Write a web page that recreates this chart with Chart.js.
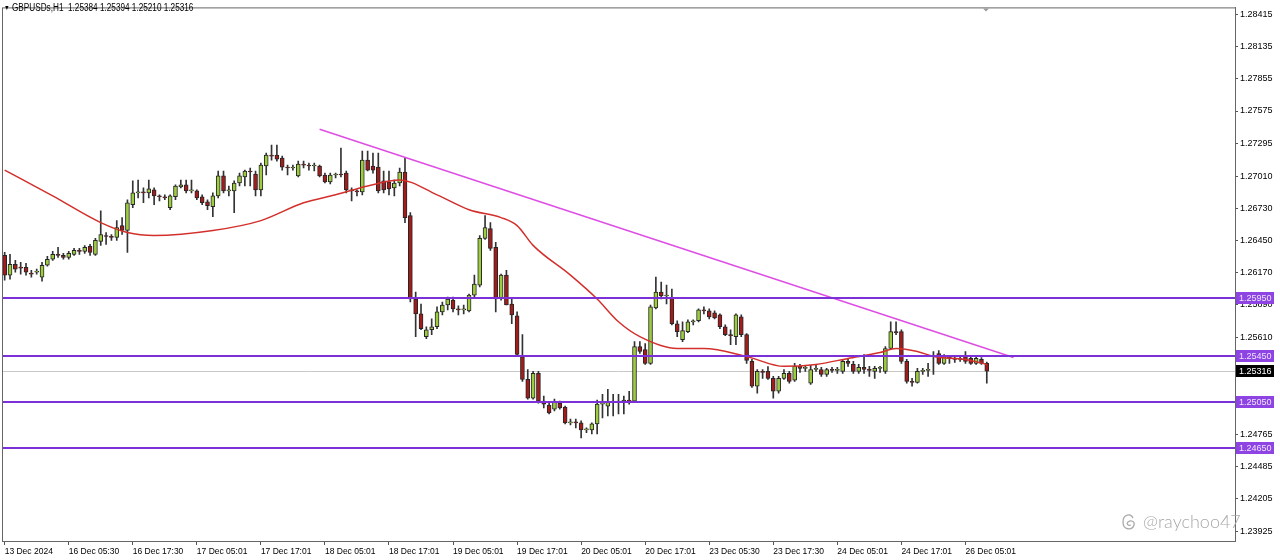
<!DOCTYPE html>
<html>
<head>
<meta charset="utf-8">
<title>GBPUSDs,H1</title>
<script src="https://cdn.jsdelivr.net/npm/chart.js@4.4.1/dist/chart.umd.min.js"></script>
<style>
  body { margin: 0; background: #fff; }
  #wrap { position: relative; width: 1280px; height: 560px; overflow: hidden; }
  #head { position: absolute; left: 4px; top: 2px; font: 10px "Liberation Sans", sans-serif; color: #000; white-space: pre; transform: scaleX(0.82); transform-origin: 0 0; }
  #head .tri { font-size: 7px; position: relative; top: -1px; }
  #mark { position: absolute; left: 1121px; top: 508px; color: #a9a9a9; font: 300 18px Lato, "Open Sans", sans-serif; line-height: 26px; white-space: nowrap; }
  #mark svg { vertical-align: -4px; margin-right: 6px; }
</style>
</head>
<body>
<div id="wrap">
  <canvas id="chart" width="1280" height="560"></canvas>
  <div id="head"></div>
  <div id="mark"><svg width="16" height="20" viewBox="0 0 16 20"><path d="M12 6 C10 1, 2 2, 2 10 C2 18, 11 19, 13 13 C14 9, 10 8, 7 10 C5 12, 7 14, 10 13" stroke="#a9a9a9" fill="none" stroke-width="1.3"/></svg>@raychoo47</div>
</div>
<script>
// GBPUSD hourly candles
const symbol = "GBPUSDs,H1";
const slots = 231; // bar slots visible on the chart (185 used)

const timeLabels = ["13 Dec 2024", "16 Dec 05:30", "16 Dec 17:30", "17 Dec 05:01", "17 Dec 17:01",
  "18 Dec 05:01", "18 Dec 17:01", "19 Dec 05:01", "19 Dec 17:01", "20 Dec 05:01", "20 Dec 17:01",
  "23 Dec 05:30", "23 Dec 17:30", "24 Dec 05:01", "24 Dec 17:01", "26 Dec 05:01"];

const priceTicks = [1.28415, 1.28135, 1.27855, 1.27575, 1.27295, 1.27010, 1.26730, 1.26450, 1.26170,
  1.25890, 1.25610, 1.25330, 1.25050, 1.24765, 1.24485, 1.24205, 1.23925];

const opens = [
  1.26321, 1.26149, 1.26244, 1.26218, 1.26218, 1.26166, 1.26175, 1.26132, 1.26235, 1.26287,
  1.26330, 1.26321, 1.26304, 1.26330, 1.26364, 1.26356, 1.26399, 1.26330, 1.26442, 1.26494,
  1.26485, 1.26477, 1.26580, 1.26537, 1.26761, 1.26864, 1.26873, 1.26864, 1.26890, 1.26838,
  1.26830, 1.26735, 1.26830, 1.26916, 1.26933, 1.26881, 1.26881, 1.26830, 1.26787, 1.26743,
  1.26838, 1.27011, 1.26881, 1.26881, 1.26950, 1.27002, 1.27054, 1.27028, 1.26890, 1.27097,
  1.27192, 1.27192, 1.27166, 1.27088, 1.27080, 1.27011, 1.27114, 1.27105, 1.27097, 1.27097,
  1.27019, 1.26959, 1.27019, 1.27028, 1.27036, 1.26890, 1.26881, 1.26873, 1.27149, 1.27097,
  1.27088, 1.26968, 1.26959, 1.26907, 1.26950, 1.27045, 1.26666, 1.25942, 1.25813, 1.25615,
  1.25675, 1.25701, 1.25830, 1.25890, 1.25933, 1.25856, 1.25847, 1.25839, 1.25976, 1.26063,
  1.26468, 1.26554, 1.26390, 1.25950, 1.26149, 1.25899, 1.25796, 1.25443, 1.25244, 1.25081,
  1.25296, 1.25055, 1.25020, 1.24986, 1.25038, 1.25003, 1.24866, 1.24874, 1.24866, 1.24805,
  1.24805, 1.24857, 1.25029, 1.25012, 1.25046, 1.25055, 1.25046, 1.25063, 1.25055, 1.25529,
  1.25503, 1.25383, 1.25864, 1.26003, 1.25968, 1.25950, 1.25727, 1.25589, 1.25658, 1.25744,
  1.25753, 1.25847, 1.25839, 1.25821, 1.25804, 1.25701, 1.25632, 1.25615, 1.25787, 1.25632,
  1.25400, 1.25184, 1.25313, 1.25313, 1.25253, 1.25141, 1.25253, 1.25296, 1.25236, 1.25357,
  1.25340, 1.25210, 1.25330, 1.25330, 1.25287, 1.25330, 1.25322, 1.25313, 1.25400, 1.25374,
  1.25313, 1.25348, 1.25330, 1.25313, 1.25340, 1.25313, 1.25512, 1.25658, 1.25658, 1.25400,
  1.25227, 1.25218, 1.25313, 1.25322, 1.25443, 1.25469, 1.25383, 1.25443, 1.25426, 1.25417,
  1.25443, 1.25426, 1.25383, 1.25417, 1.25384];

const highs = [
  1.26347, 1.26330, 1.26278, 1.26261, 1.26252, 1.26192, 1.26201, 1.26261, 1.26313, 1.26356,
  1.26390, 1.26339, 1.26356, 1.26382, 1.26382, 1.26407, 1.26416, 1.26468, 1.26709, 1.26520,
  1.26502, 1.26623, 1.26649, 1.26804, 1.26968, 1.26976, 1.26907, 1.26976, 1.26907, 1.26847,
  1.26847, 1.26847, 1.26933, 1.26976, 1.26976, 1.26976, 1.26890, 1.26847, 1.26804, 1.26864,
  1.27054, 1.27054, 1.26924, 1.26968, 1.27036, 1.27062, 1.27080, 1.27054, 1.27123, 1.27209,
  1.27278, 1.27278, 1.27183, 1.27105, 1.27105, 1.27140, 1.27140, 1.27123, 1.27123, 1.27105,
  1.27036, 1.27036, 1.27036, 1.27252, 1.27054, 1.26907, 1.26890, 1.27226, 1.27226, 1.27209,
  1.27209, 1.27054, 1.27054, 1.26976, 1.27080, 1.27166, 1.26692, 1.26003, 1.25899, 1.25701,
  1.25770, 1.25873, 1.25916, 1.25959, 1.25959, 1.25882, 1.25890, 1.25985, 1.26149, 1.26494,
  1.26666, 1.26606, 1.26435, 1.26158, 1.26192, 1.25942, 1.25830, 1.25632, 1.25330, 1.25313,
  1.25313, 1.25098, 1.25038, 1.25072, 1.25055, 1.25012, 1.24900, 1.24900, 1.24883, 1.24823,
  1.24866, 1.25063, 1.25115, 1.25158, 1.25115, 1.25115, 1.25098, 1.25141, 1.25572, 1.25572,
  1.25555, 1.25890, 1.26132, 1.26089, 1.26063, 1.26028, 1.25753, 1.25744, 1.25761, 1.25761,
  1.25856, 1.25873, 1.25856, 1.25839, 1.25813, 1.25718, 1.25675, 1.25813, 1.25804, 1.25641,
  1.25417, 1.25330, 1.25330, 1.25356, 1.25270, 1.25270, 1.25330, 1.25313, 1.25383, 1.25374,
  1.25366, 1.25366, 1.25366, 1.25348, 1.25340, 1.25348, 1.25348, 1.25409, 1.25417, 1.25400,
  1.25374, 1.25460, 1.25357, 1.25357, 1.25357, 1.25529, 1.25744, 1.25744, 1.25675, 1.25417,
  1.25253, 1.25340, 1.25340, 1.25383, 1.25486, 1.25495, 1.25460, 1.25452, 1.25452, 1.25443,
  1.25486, 1.25443, 1.25443, 1.25434, 1.25394];

const lows = [
  1.26106, 1.26115, 1.26175, 1.26158, 1.26149, 1.26132, 1.26158, 1.26097, 1.26227, 1.26278,
  1.26304, 1.26287, 1.26287, 1.26321, 1.26330, 1.26339, 1.26321, 1.26321, 1.26407, 1.26416,
  1.26451, 1.26451, 1.26502, 1.26347, 1.26735, 1.26821, 1.26778, 1.26821, 1.26761, 1.26795,
  1.26804, 1.26718, 1.26804, 1.26907, 1.26864, 1.26864, 1.26804, 1.26761, 1.26718, 1.26658,
  1.26821, 1.26864, 1.26838, 1.26692, 1.26924, 1.26924, 1.26924, 1.26838, 1.26838, 1.27019,
  1.27149, 1.27140, 1.27062, 1.27019, 1.27062, 1.27002, 1.27080, 1.27062, 1.27054, 1.27002,
  1.26950, 1.26942, 1.26993, 1.27002, 1.26864, 1.26795, 1.26838, 1.26847, 1.27054, 1.27036,
  1.26864, 1.26864, 1.26847, 1.26838, 1.26924, 1.26606, 1.25916, 1.25615, 1.25675, 1.25598,
  1.25632, 1.25684, 1.25804, 1.25847, 1.25830, 1.25804, 1.25813, 1.25830, 1.25959, 1.26046,
  1.26459, 1.26364, 1.25830, 1.25933, 1.25890, 1.25727, 1.25443, 1.25227, 1.25072, 1.25072,
  1.25038, 1.24995, 1.24943, 1.24969, 1.24986, 1.24857, 1.24849, 1.24823, 1.24736, 1.24780,
  1.24771, 1.24771, 1.24909, 1.24926, 1.24926, 1.24943, 1.24943, 1.25029, 1.25046, 1.25469,
  1.25374, 1.25374, 1.25856, 1.25942, 1.25899, 1.25718, 1.25615, 1.25572, 1.25649, 1.25718,
  1.25744, 1.25813, 1.25770, 1.25770, 1.25684, 1.25623, 1.25546, 1.25546, 1.25615, 1.25383,
  1.25175, 1.25124, 1.25253, 1.25244, 1.25081, 1.25124, 1.25244, 1.25210, 1.25227, 1.25305,
  1.25313, 1.25201, 1.25313, 1.25270, 1.25270, 1.25305, 1.25296, 1.25296, 1.25357, 1.25296,
  1.25296, 1.25296, 1.25270, 1.25253, 1.25305, 1.25296, 1.25503, 1.25632, 1.25383, 1.25210,
  1.25184, 1.25210, 1.25287, 1.25270, 1.25287, 1.25374, 1.25374, 1.25383, 1.25391, 1.25400,
  1.25383, 1.25374, 1.25374, 1.25374, 1.25210];

const closes = [
  1.26149, 1.26244, 1.26201, 1.26210, 1.26175, 1.26158, 1.26184, 1.26235, 1.26287, 1.26330,
  1.26321, 1.26304, 1.26339, 1.26364, 1.26356, 1.26390, 1.26347, 1.26451, 1.26502, 1.26485,
  1.26477, 1.26563, 1.26537, 1.26778, 1.26864, 1.26873, 1.26864, 1.26899, 1.26838, 1.26830,
  1.26821, 1.26838, 1.26924, 1.26933, 1.26881, 1.26890, 1.26821, 1.26778, 1.26752, 1.26838,
  1.27011, 1.26881, 1.26890, 1.26950, 1.27011, 1.27054, 1.27045, 1.26890, 1.27105, 1.27192,
  1.27183, 1.27157, 1.27088, 1.27080, 1.27088, 1.27114, 1.27105, 1.27097, 1.27105, 1.27011,
  1.26959, 1.27019, 1.27028, 1.27019, 1.26890, 1.26881, 1.26873, 1.27149, 1.27062, 1.27062,
  1.26881, 1.26890, 1.26899, 1.26950, 1.27045, 1.26649, 1.25942, 1.25813, 1.25684, 1.25675,
  1.25701, 1.25830, 1.25890, 1.25942, 1.25856, 1.25847, 1.25856, 1.25976, 1.26071, 1.26468,
  1.26563, 1.26382, 1.25942, 1.26149, 1.25890, 1.25804, 1.25460, 1.25244, 1.25081, 1.25296,
  1.25055, 1.25029, 1.24952, 1.25046, 1.24995, 1.24866, 1.24874, 1.24866, 1.24805, 1.24814,
  1.24857, 1.25029, 1.25038, 1.25046, 1.25055, 1.25046, 1.25063, 1.25055, 1.25529, 1.25486,
  1.25383, 1.25873, 1.26003, 1.25968, 1.25976, 1.25727, 1.25658, 1.25667, 1.25744, 1.25753,
  1.25847, 1.25839, 1.25787, 1.25778, 1.25701, 1.25632, 1.25623, 1.25804, 1.25632, 1.25409,
  1.25184, 1.25313, 1.25305, 1.25253, 1.25141, 1.25253, 1.25296, 1.25227, 1.25357, 1.25340,
  1.25348, 1.25330, 1.25340, 1.25287, 1.25330, 1.25322, 1.25330, 1.25400, 1.25383, 1.25313,
  1.25348, 1.25330, 1.25322, 1.25340, 1.25348, 1.25512, 1.25658, 1.25649, 1.25400, 1.25227,
  1.25218, 1.25313, 1.25322, 1.25330, 1.25452, 1.25383, 1.25443, 1.25426, 1.25417, 1.25426,
  1.25400, 1.25383, 1.25426, 1.25383, 1.25316];

// moving average (red), read at some bars
const maIdx = [0, 9, 18, 23, 28, 39, 48, 56, 62, 68, 74, 81, 87, 93, 96, 99, 106, 111, 115, 119,
  126, 131, 139, 146, 152, 158, 164, 167, 171, 174, 180, 184];
const maVals = [1.27062, 1.26838, 1.26606, 1.26520, 1.26494, 1.26537, 1.26623, 1.26778, 1.26847, 1.26924,
  1.26976, 1.26847, 1.26718, 1.26649, 1.26580, 1.26408, 1.26149, 1.25942, 1.25744, 1.25615,
  1.25512, 1.25512, 1.25443, 1.25357, 1.25374, 1.25426, 1.25477, 1.25512, 1.25486, 1.25443,
  1.25417, 1.25374];

// trend line (magenta) and horizontal levels (purple)
const trendIdx = [59, 189];
const trendVals = [1.27416, 1.25434];
const levels = [1.25950, 1.25450, 1.25050, 1.24650];

const yMin = 1.2384;
const yMax = 1.28475;

const last = closes.length - 1;
const lastPrice = closes[last];

document.getElementById("head").innerHTML = '<span class="tri">\u25BC</span> ' + symbol + "  " +
  [opens[last], highs[last], lows[last], closes[last]].map(v => v.toFixed(5)).join(" ");

// tables for chart.js
var labels = [];
for (let i = 0; i < slots; i++) labels.push(i);
var bodies = opens.map((o, i) => [Math.min(o, closes[i]), Math.max(o, closes[i])]);
var wicks = lows.map((l, i) => [l, highs[i]]);
var bodyColors = opens.map((o, i) => closes[i] >= o ? "#9dcc3f" : "#a31c1c");
var maLine = labels.map(() => null);
maIdx.forEach((ix, k) => { maLine[ix] = maVals[k]; });
var trendLine = labels.map(() => null);
trendIdx.forEach((ix, k) => { trendLine[ix] = trendVals[k]; });

const tickFont = { family: '"Liberation Sans", Arial, sans-serif', size: 8.5 };
const priceFont = { family: '"Liberation Sans", Arial, sans-serif', size: 9 };

function priceBox(ctx, x, py, text, bg, fg) {
  ctx.fillStyle = bg;
  ctx.fillRect(x, py - 6, 38, 12);
  ctx.fillStyle = fg;
  ctx.font = '9px "Liberation Sans", Arial, sans-serif';
  ctx.textAlign = "left";
  ctx.textBaseline = "middle";
  ctx.fillText(text, x + 3, py + 0.5);
}

const overlay = {
  id: "overlay",
  beforeDatasetsDraw(chart) {
    // gray line at the last price
    const { ctx, chartArea: a, scales } = chart;
    const py = Math.round(scales.y.getPixelForValue(lastPrice)) + 0.5;
    ctx.save();
    ctx.strokeStyle = "#c9c9c9";
    ctx.lineWidth = 1;
    ctx.beginPath();
    ctx.moveTo(a.left, py);
    ctx.lineTo(a.right, py);
    ctx.stroke();
    ctx.restore();
  },
  afterDatasetsDraw(chart) {
    const { ctx, chartArea: a, scales } = chart;
    ctx.save();
    ctx.strokeStyle = "#7c30d8";
    ctx.lineWidth = 2;
    levels.forEach(lv => {
      const py = Math.round(scales.y.getPixelForValue(lv));
      ctx.beginPath();
      ctx.moveTo(a.left, py);
      ctx.lineTo(a.right, py);
      ctx.stroke();
    });
    ctx.restore();
  },
  afterDraw(chart) {
    const { ctx, chartArea: a, scales } = chart;
    ctx.save();
    levels.forEach(lv => {
      priceBox(ctx, a.right + 1, Math.round(scales.y.getPixelForValue(lv)), lv.toFixed(5), "#8d44e2", "#efe4ff");
    });
    priceBox(ctx, a.right + 1, Math.round(scales.y.getPixelForValue(lastPrice)), lastPrice.toFixed(5), "#000", "#fff");
    // frame round the plot
    ctx.strokeStyle = "#666";
    ctx.lineWidth = 1;
    ctx.strokeRect(a.left + 0.5, a.top + 0.5, a.right - a.left, a.bottom - a.top);
    // small shift marker at the top
    ctx.fillStyle = "#9a9a9a";
    ctx.beginPath();
    ctx.moveTo(983, a.top + 1);
    ctx.lineTo(989, a.top + 1);
    ctx.lineTo(986, a.top + 4);
    ctx.fill();
    ctx.restore();
  }
};

const ctx = document.getElementById("chart").getContext("2d");
const myChart = new Chart(ctx, {
  type: "bar",
  data: {
    labels: labels,
    datasets: [
      {
        type: "line",
        data: trendLine,
        borderColor: "#de4ee4",
        borderWidth: 1.5,
        pointRadius: 0,
        spanGaps: true,
        order: 0,
      },
      {
        type: "line",
        data: maLine,
        borderColor: "#d3302c",
        borderWidth: 1.5,
        pointRadius: 0,
        spanGaps: true,
        cubicInterpolationMode: "monotone",
        order: 1,
      },
      {
        data: bodies,
        backgroundColor: bodyColors,
        borderColor: "#262626",
        borderWidth: 1,
        borderSkipped: false,
        barThickness: 4,
        minBarLength: 1,
        grouped: false,
        order: 2,
      },
      {
        data: wicks,
        backgroundColor: "#333",
        barThickness: 1,
        grouped: false,
        order: 3,
      },
    ],
  },
  options: {
    responsive: false,
    animation: false,
    layout: { padding: { left: 2, top: 3, right: 0, bottom: 0 } },
    plugins: { legend: { display: false }, tooltip: { enabled: false } },
    scales: {
      x: {
        type: "category",
        offset: true,
        afterBuildTicks: (s) => { s.ticks = timeLabels.map((t, k) => ({ value: k * 12 })); },
        afterFit: (s) => { s.height = 19; },
        ticks: {
          autoSkip: false,
          maxRotation: 0,
          align: "start",
          padding: 2,
          color: "#000",
          font: tickFont,
          callback: (v, i) => timeLabels[i],
        },
        grid: { offset: false, drawOnChartArea: false, tickLength: 4, color: "#555" },
        border: { color: "#666" },
      },
      y: {
        position: "right",
        min: yMin,
        max: yMax,
        afterBuildTicks: (s) => { s.ticks = priceTicks.map(v => ({ value: v })); },
        afterFit: (s) => { s.width = 45; },
        ticks: {
          autoSkip: false,
          padding: 2,
          color: "#000",
          font: priceFont,
          callback: (v) => v.toFixed(5),
        },
        grid: { drawOnChartArea: false, tickLength: 3, color: "#555" },
        border: { color: "#666" },
      },
    },
  },
  plugins: [overlay],
});
</script>
</body>
</html>
